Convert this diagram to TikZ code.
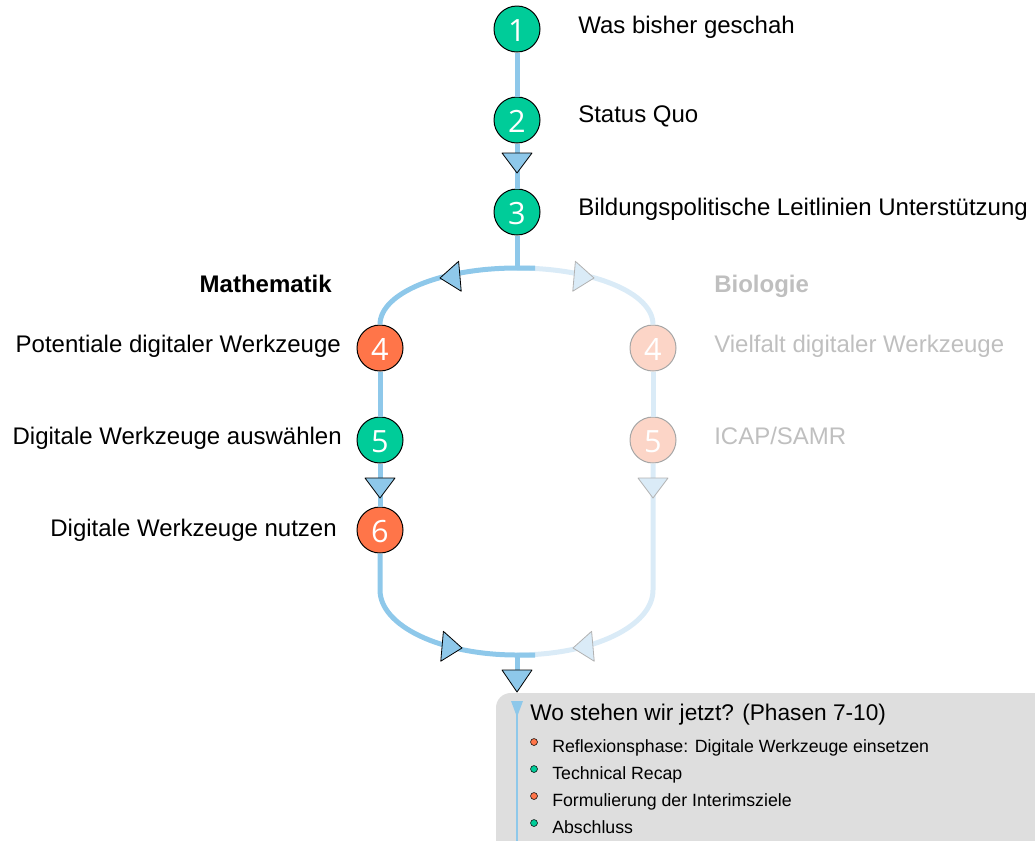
\documentclass[tikz,border=0pt]{standalone}
\usepackage{fontspec}
\setmainfont{Liberation Sans}
\newfontfamily\numfont{Open Sans}

\definecolor{flowblue}{HTML}{8EC8EA}
\definecolor{flowpale}{HTML}{DAEBF7}
\definecolor{stepgreen}{HTML}{00CC99}
\definecolor{steporange}{HTML}{FF7549}
\definecolor{steppale}{HTML}{FCD5C7}
\definecolor{palegray}{HTML}{BFBFBF}
\definecolor{boxgray}{HTML}{DEDEDE}

\tikzset{
	stepbase/.style={circle,draw=black,line width=0.75pt,minimum size=34.5pt,inner sep=0pt,
		text=white,font=\numfont\fontsize{23}{23}\selectfont,text height=18.5pt,text depth=0pt},
	stepg/.style={stepbase,fill=stepgreen},
	stepo/.style={stepbase,fill=steporange},
	stepp/.style={stepbase,fill=steppale,draw=black!35},
	lbl/.style={inner sep=0pt,font=\fontsize{18}{21}\selectfont},
	lblpale/.style={lbl,text=palegray},
	head/.style={inner sep=0pt,font=\bfseries\fontsize{18}{21}\selectfont},
	item/.style={inner sep=0pt,anchor=base west,font=\fontsize{13.3}{16}\selectfont},
	darkline/.style={draw=flowblue,line width=3.75pt},
	paleline/.style={draw=flowpale,line width=3.75pt},
	tipdark/.style={fill=flowblue,draw=black,line width=0.6pt,line join=round},
	tippale/.style={fill=flowpale,draw=black!30,line width=0.6pt,line join=round},
	dot/.style={draw=black,line width=0.4pt},
	pics/flowtip/.style={code={\draw[#1] (0,0) -- (-20,15) -- (-20,-15) -- cycle;}}
}

\begin{document}
\begin{tikzpicture}[x=0.75pt,y=-0.75pt]
	\useasboundingbox (0,0) rectangle (1035,840);
	\clip (0,0) rectangle (1035,840);

	% common steps
	\node[stepg] (n1) at (517,29) {1};
	\node[stepg] (n2) at (517,120) {2};
	\node[stepg] (n3) at (517,212) {3};
	\coordinate (top) at (517,268);
	\coordinate (bot) at (517,655);

	% Mathematik / Biologie
	\node[stepo] (m4) at (380,348) {4};
	\node[stepg] (m5) at (380,440) {5};
	\node[stepo] (m6) at (380,530) {6};
	\node[stepp] (b4) at (653,348) {4};
	\node[stepp] (b5) at (653,440) {5};

	% pale branch first
	\draw[paleline] (top) .. controls (593,268) and (653,293) .. (b4.north);
	\draw[paleline] (b4) -- (b5);
	\draw[paleline] (b5) -- (653,590) .. controls (653,626) and (593,655) .. (bot);

	% main branch
	\draw[darkline] (n1) -- (n2);
	\draw[darkline] (n2) -- (n3);
	\draw[darkline] (n3) -- (top);
	\draw[darkline] (535,268) -- (top) .. controls (441,268) and (380,293) .. (m4.north);
	\draw[darkline] (m4) -- (m5);
	\draw[darkline] (m5) -- (m6);
	\draw[darkline] (m6) -- (380,590) .. controls (380,626) and (441,655) .. (bot) -- (535,655);
	\draw[darkline] (bot) -- (517,672);

	% arrow heads
	\pic[rotate=-90] at (517,173) {flowtip=tipdark};
	\pic[rotate=185] at (440,278) {flowtip=tipdark};
	\pic[rotate=-5] at (594,278) {flowtip=tippale};
	\pic[rotate=-90] at (380,498) {flowtip=tipdark};
	\pic[rotate=-90] at (653,498) {flowtip=tippale};
	\pic[rotate=-5] at (462,648) {flowtip=tipdark};
	\pic[rotate=185] at (573,648) {flowtip=tippale};
	\pic[rotate=-90,xscale=1.1] at (517,692) {flowtip=tipdark};

	% labels
	\node[lbl,anchor=base west] (t1) at (578,33) {Was bisher geschah};
	\node[lbl,anchor=base west] (t2) at (578,122) {Status Quo};
	\node[lbl,anchor=base west] (t3) at (578,215) {Bildungspolitische Leitlinien Unterstützung};
	\node[head,anchor=base east] (hm) at (332,292) {Mathematik};
	\node[head,anchor=base west,text=palegray] (hb) at (714,292) {Biologie};
	\node[lbl,anchor=base east] (tm4) at (341,352) {Potentiale digitaler Werkzeuge};
	\node[lbl,anchor=base east] (tm5) at (342,444) {Digitale Werkzeuge auswählen};
	\node[lbl,anchor=base east] (tm6) at (337,536) {Digitale Werkzeuge nutzen};
	\node[lblpale,anchor=base west] (tb4) at (714,352) {Vielfalt digitaler Werkzeuge};
	\node[lblpale,anchor=base west] (tb5) at (714,444) {ICAP/SAMR};

	% outlook box
	\fill[boxgray,rounded corners=11pt] (496,693) rectangle (1080,880);
	\draw[flowblue,line width=1.8pt] (517,705) -- (517,850);
	\fill[flowblue] (511,701) -- (523,701) -- (517,717) -- cycle;
	\node[inner sep=0pt,anchor=base west,font=\fontsize{17}{20}\selectfont] (wo) at (530,720) {Wo stehen wir jetzt? (Phasen 7-10)};
	\draw[dot,fill=steporange] (534,742) circle[radius=2.6pt];
	\draw[dot,fill=stepgreen] (534,769) circle[radius=2.6pt];
	\draw[dot,fill=steporange] (534,796) circle[radius=2.6pt];
	\draw[dot,fill=stepgreen] (534,823) circle[radius=2.6pt];
	\node[item] (i1) at (552,752) {Reflexionsphase: Digitale Werkzeuge einsetzen};
	\node[item] (i2) at (552,779) {Technical Recap};
	\node[item] (i3) at (552,806) {Formulierung der Interimsziele};
	\node[item] (i4) at (552,833) {Abschluss};
\end{tikzpicture}
\end{document}
